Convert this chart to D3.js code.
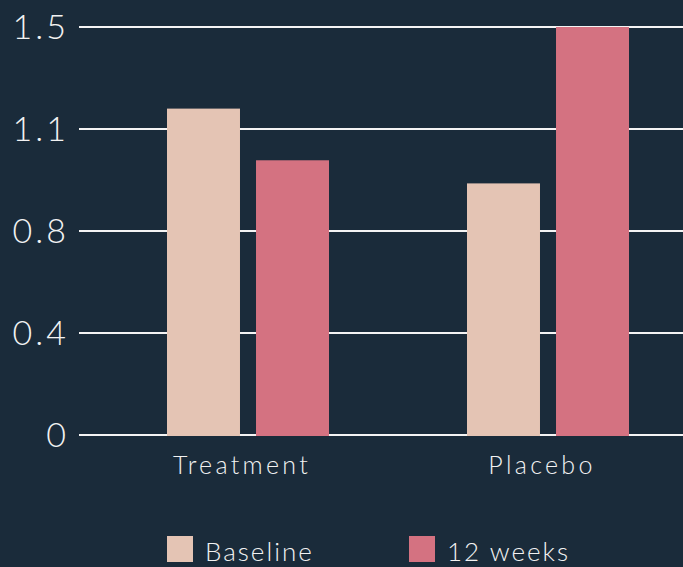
<!DOCTYPE html>
<html>
<head>
<meta charset="utf-8">
<script src="https://cdn.jsdelivr.net/npm/d3@7"></script>
<style>
  html, body { margin: 0; padding: 0; background: #1a2b3a; }
  svg { display: block; }
  text { font-family: "Lato", "Open Sans", sans-serif; fill: #f2f2f2; }
</style>
</head>
<body>
<div id="chart"></div>
<script>
/* chart data */
const categories = ["Treatment", "Placebo"];
const seriesNames = ["Baseline", "12 weeks"];
const baselineValues = [1.2, 0.925];
const week12Values = [1.01, 1.5];
const yTicks = [0, 0.375, 0.75, 1.125, 1.5];
const yTickLabels = ["0", "0.4", "0.8", "1.1", "1.5"];
const seriesColors = ["#e4c4b4", "#d47281"];

document.addEventListener("DOMContentLoaded", function(){

  const width = 683;
  const height = 567;

  const svg = d3.select("#chart")
    .append("svg")
    .attr("width", width)
    .attr("height", height);

  svg.append("rect")
    .attr("width", width)
    .attr("height", height)
    .attr("fill", "#1a2b3a");

  /*scales*/
  const y = d3.scaleLinear().domain([0, 1.5]).range([435, 27]);
  const x0 = d3.scaleBand().domain(categories).range([98, 698]).padding(0);
  const x1 = d3.scaleBand().domain(seriesNames).range([-81, 81]).paddingInner(0.18);

  /*gridlines + y labels*/
  const grid = svg.append("g");
  yTicks.forEach((t, i) => {
    grid.append("line")
      .attr("x1", 79).attr("x2", width)
      .attr("y1", y(t)).attr("y2", y(t))
      .attr("stroke", "#f4f4f4")
      .attr("stroke-width", 2);
    grid.append("text")
      .attr("x", 69)
      .attr("y", y(t))
      .attr("dy", "0.36em")
      .attr("text-anchor", "end")
      .style("font-size", "34px")
      .style("font-weight", 300)
      .style("letter-spacing", "3px")
      .text(yTickLabels[i]);
  });

  /*bars*/
  const rows = categories.map((c, i) => ({cat: c, vals: [baselineValues[i], week12Values[i]]}));
  const groups = svg.selectAll("g.cat")
    .data(rows)
    .enter().append("g")
    .attr("class", "cat")
    .attr("transform", d => "translate(" + (x0(d.cat) + x0.bandwidth()/2) + ",0)");

  groups.selectAll("rect")
    .data(d => d.vals.map((v, j) => ({name: seriesNames[j], v: v, j: j})))
    .enter().append("rect")
    .attr("x", d => x1(d.name))
    .attr("width", x1.bandwidth())
    .attr("y", d => y(d.v))
    .attr("height", d => y(0) - y(d.v) + 1)
    .attr("fill", d => seriesColors[d.j]);

  /*category labels*/
  groups.append("text")
    .attr("x", -6)
    .attr("y", 474)
    .attr("text-anchor", "middle")
    .style("font-size", "25px")
    .style("font-weight", 300)
    .style("letter-spacing", "3.3px")
    .text(d => d.cat);

  /*legend*/
  const legendX = [167, 409];
  const legend = svg.selectAll("g.legend")
    .data(seriesNames)
    .enter().append("g")
    .attr("class", "legend")
    .attr("transform", (d, i) => "translate(" + legendX[i] + ",536)");
  legend.append("rect")
    .attr("width", 26).attr("height", 26)
    .attr("fill", (d, i) => seriesColors[i]);
  legend.append("text")
    .attr("x", 38)
    .attr("y", 25)
    .style("font-size", "26px")
    .style("font-weight", 300)
    .style("letter-spacing", "2px")
    .text(d => d);
});
</script>
</body>
</html>
